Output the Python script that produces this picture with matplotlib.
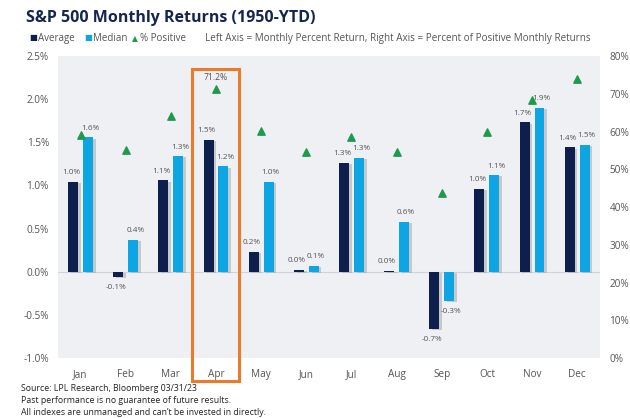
import numpy as np
import matplotlib
matplotlib.use("Agg")
import matplotlib.pyplot as plt
import matplotlib.patheffects as pe
from matplotlib.patches import Rectangle

plt.rcParams['font.family'] = ['Open Sans', 'DejaVu Sans']

months = ['Jan', 'Feb', 'Mar', 'Apr', 'May', 'Jun', 'Jul', 'Aug', 'Sep', 'Oct', 'Nov', 'Dec']
average = [1.04, -0.06, 1.06, 1.53, 0.23, 0.02, 1.26, 0.01, -0.66, 0.96, 1.73, 1.44]
median = [1.56, 0.37, 1.34, 1.22, 1.04, 0.07, 1.32, 0.58, -0.34, 1.12, 1.90, 1.47]
pct_positive = [59.1, 55.1, 64.1, 71.2, 60.1, 54.5, 58.6, 54.6, 43.6, 60.0, 68.3, 73.8]
highlight = 'Apr'

navy = '#0c1f4d'
blue = '#0ea5e4'
green = '#1e9a4c'
orange = '#ea7a2c'
gray = '#555555'

fig = plt.figure(figsize=(6.3, 4.18), dpi=100)
ax = fig.add_axes([0.092, 0.1435, 0.86, 0.7225])
ax.set_facecolor('#eef0f3')

x = np.arange(len(months))
w = 0.22
off = 0.165
shadow = [pe.SimplePatchShadow(offset=(2, -1), shadow_rgbFace='#999999', alpha=0.45), pe.Normal()]
ax.bar(x - off, average, w, color=navy, zorder=3, path_effects=shadow)
ax.bar(x + off, median, w, color=blue, zorder=3, path_effects=shadow)

# value labels, nudged apart a little so neighbours don't collide
for xs, vals, dx in ((x - off, average, -1.5), (x + off, median, 1.5)):
    for xi, v in zip(xs, vals):
        ax.annotate(f"{v:.1f}%", (xi, v), xytext=(dx, 4 if v >= 0 else -5),
                    textcoords='offset points', ha='center',
                    va='bottom' if v >= 0 else 'top', fontsize=5.9, color=gray, zorder=5)

ax.axhline(0, color='#d0d3d8', lw=0.8, zorder=2)
ax.set_xlim(-0.5, len(months) - 0.5)
ax.set_ylim(-1.0, 2.5)
ax.set_yticks(np.arange(-1.0, 2.51, 0.5))
ax.set_yticklabels([f"{t:.1f}%" for t in np.arange(-1.0, 2.51, 0.5)])
ax.set_xticks(x)
ax.set_xticklabels(months)
ax.tick_params(length=0, labelsize=7.2, colors=gray, pad=8)
ax.tick_params(axis='y', pad=6.5)
for s in ax.spines.values():
    s.set_visible(False)

ax2 = ax.twinx()
ax2.scatter(x, pct_positive, marker='^', s=28, color=green, zorder=6)
ax2.set_ylim(0, 80)
ax2.set_yticks(np.arange(0, 81, 10))
ax2.set_yticklabels([f"{t}%" for t in range(0, 81, 10)])
ax2.tick_params(length=0, labelsize=7.2, colors=gray, pad=7)
for s in ax2.spines.values():
    s.set_visible(False)

hi = months.index(highlight)
ax2.annotate(f"{pct_positive[hi]:.1f}%", (hi, pct_positive[hi]), xytext=(0, 5),
             textcoords='offset points', ha='center', va='bottom', fontsize=6.2, color=gray)

ax.add_patch(Rectangle((hi - 0.53, -1.27), 1.04, 3.62, fill=False, ec=orange,
                       lw=2.2, clip_on=False, zorder=7))

fig.text(0.041, 0.957, "S&P 500 Monthly Returns (1950-YTD)", fontsize=11.5,
         fontweight='bold', color='#14264f', va='center')

# legend row
ly = 0.907
fig.text(0.047, ly, "■", fontsize=6, color=navy, va='center')
fig.text(0.060, ly, "Average", fontsize=7, color=gray, va='center')
fig.text(0.134, ly, "■", fontsize=6, color=blue, va='center')
fig.text(0.147, ly, "Median", fontsize=7, color=gray, va='center')
fig.text(0.210, ly, "▲", fontsize=5.5, color=green, va='center', family='DejaVu Sans')
fig.text(0.222, ly, "% Positive", fontsize=7, color=gray, va='center')
fig.text(0.325, ly, "Left Axis = Monthly Percent Return, Right Axis = Percent of Positive Monthly Returns",
         fontsize=7.1, color=gray, va='center')

foot = ["Source: LPL Research, Bloomberg 03/31/23",
        "Past performance is no guarantee of future results.",
        "All indexes are unmanaged and can\u2019t be invested in directly."]
for i, line in enumerate(foot):
    fig.text(0.033, 0.070 - i * 0.029, line, fontsize=6.3, color='#222222', va='center')

fig.savefig("out.png", dpi=100, facecolor='white')
